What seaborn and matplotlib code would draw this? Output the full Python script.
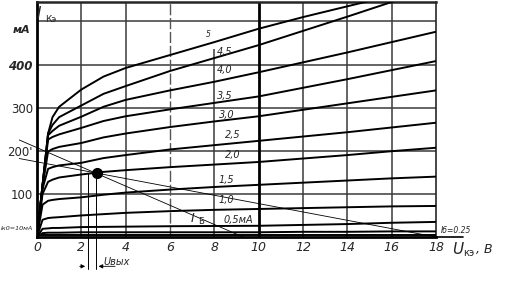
import matplotlib
matplotlib.use("Agg")
import matplotlib.pyplot as plt
import numpy as np
import pandas as pd
import seaborn as sns

# ---- data ----
u_ke = [0, 0.25, 0.5, 0.7, 1, 2, 3, 4, 6, 8, 10, 12, 14, 16, 18]   # V
ib_labels = ["5", "4,5", "4,0", "3,5", "3,0", "2,5", "2,0", "1,5", "1,0", "0,5мА", "0,25"]
ik_5_0 = [0, 120, 240, 278, 302, 342, 372, 392, 422, 452, 483, 510, 535, 560, 585]
ik_4_5 = [0, 120, 240, 260, 278, 305, 332, 350, 385, 415, 445, 478, 511, 545, 578]
ik_4_0 = [0, 120, 236, 246, 258, 279, 302, 318, 340, 360, 382, 405, 428, 452, 476]
ik_3_5 = [0, 120, 226, 232, 238, 253, 269, 280, 296, 311, 326, 346, 366, 387, 408]
ik_3_0 = [0, 118, 198, 204, 209, 218, 231, 240, 255, 268, 280, 295, 310, 325, 340]
ik_2_5 = [0, 112, 158, 162, 166, 172, 183, 190, 203, 213, 223, 233, 243, 254, 265]
ik_2_0 = [0, 100, 128, 133, 138, 145, 151, 155, 162, 168, 174, 182, 190, 199, 207]
ik_1_5 = [0, 75, 84, 86, 88, 92, 98, 103, 110, 116, 121, 126, 131, 136, 140]
ik_1_0 = [0, 40, 44, 45, 46, 50, 53, 56, 60, 63, 65, 67, 69, 71, 72]
ik_0_5 = [0, 19, 20, 21, 21, 23, 23.5, 24, 25, 25.5, 26, 28, 30, 33, 35]
ik_0_25 = [0, 9, 10, 10, 10, 11, 11, 11, 11, 11, 11, 12, 12, 13, 13]
ik0_level = 4  # mA, residual line near the axis

# label positions (V, mA) for curve names
label_u = [7.6, 8.1, 8.1, 8.1, 8.2, 8.5, 8.5, 8.2, 8.2, 8.4]
label_i = [470, 430, 388, 328, 282, 237, 190, 133, 86, 40]

# load lines (V, mA)
load1_u = [-0.8, 9.3]
load1_i = [225, 0]
load2_u = [-0.8, 18]
load2_i = [182, 0]
op_u, op_i = 2.7, 149
uout_u = [2.3, 2.65]

x_ticks = [0, 2, 4, 6, 8, 10, 12, 14, 16, 18]
x_ticklabels = ["0", "2", "4", "6", "8", "10", "12", "14", "16", "18"]
y_ticks = [100, 200, 300, 400]
y_ticklabels = ["100", "200'", "300", "400"]
h_grid = [100, 200, 300, 400, 500]

series = [ik_5_0, ik_4_5, ik_4_0, ik_3_5, ik_3_0, ik_2_5, ik_2_0, ik_1_5, ik_1_0, ik_0_5, ik_0_25]
df = pd.DataFrame({
    "U": np.tile(u_ke, len(series)),
    "I": np.concatenate(series),
    "Ib": np.repeat(ib_labels, len(u_ke)),
})

sns.set_style("white")
plt.rcParams['font.family'] = ['DejaVu Sans']

fig = plt.figure(figsize=(5.18, 2.90), dpi=100)
ax = fig.add_axes([37/518, 1-237/290, (436-37)/518, 235/290])
ax.set_xlim(0, 18)
ax.set_ylim(0, 545)

grid_c = "#3a3a3a"
for y in h_grid:
    ax.axhline(y, color=grid_c, lw=1.1, zorder=1)
for x in x_ticks[1:-1]:
    if x == 10:
        ax.axvline(x, color="black", lw=2.0, zorder=1)
    elif x == 8:
        ax.vlines(x, 0, 435, color=grid_c, lw=1.1, zorder=1)
    elif x == 6:
        ax.axvline(x, color="#555555", lw=1.0, ls=(0, (8, 2)), zorder=1)
    else:
        ax.axvline(x, color=grid_c, lw=1.1, zorder=1)

sns.lineplot(data=df, x="U", y="I", hue="Ib", palette=["black"] * len(series),
             legend=False, ax=ax, lw=1.4, zorder=3)
ax.axhline(ik0_level, color="black", lw=1.4, zorder=3)

# load lines
ax.plot(load1_u, load1_i, color="black", lw=0.6, clip_on=False, zorder=2)
ax.plot(load2_u, load2_i, color="black", lw=0.6, clip_on=False, zorder=2)
# operating point
ax.plot([op_u], [op_i], "o", color="black", ms=7, zorder=5)
# Uout markers
for u in uout_u:
    ax.plot([u, u], [op_i, -75], color="black", lw=0.7, clip_on=False)
ax.annotate("", xy=(uout_u[0], -68), xytext=(uout_u[0] - 0.5, -68),
            arrowprops=dict(arrowstyle="-|>", lw=0.6, color="black", mutation_scale=6),
            annotation_clip=False)
ax.annotate("", xy=(uout_u[1], -68), xytext=(uout_u[1] + 1.0, -68),
            arrowprops=dict(arrowstyle="-|>", lw=0.6, color="black", mutation_scale=6),
            annotation_clip=False)
ax.text(3.0, -58, "Uвых", fontsize=7, style="italic", ha="left", va="center")

# curve labels
for lab, u, i in zip(ib_labels[:-1], label_u, label_i):
    ax.text(u, i, lab, fontsize=7 if lab != "5" else 5.5, style="italic",
            ha="left", va="center", zorder=6)
ax.text(7.0, 44, "I", fontsize=9, style="italic", ha="center", va="center", zorder=6)
ax.text(7.25, 36, "Б", fontsize=6, ha="left", va="center", zorder=6)
ax.text(18.2, 16, "Iб=0.25", fontsize=5.5, style="italic", ha="left", va="center")
fig.text(1/518, 1-229/290, "Iк0=10мА", fontsize=4.6, style="italic",
         ha="left", va="center")

# spines
for s in ["left", "bottom"]:
    ax.spines[s].set_linewidth(2.0)
    ax.spines[s].set_color("black")
ax.spines["top"].set_linewidth(1.8)
ax.spines["right"].set_linewidth(1.2)
ax.plot([18, 19.2], [0, 0], color="black", lw=1.2, clip_on=False)

ax.set_xticks(x_ticks)
ax.set_xticklabels(x_ticklabels, fontsize=9, style="italic")
ax.set_yticks(y_ticks)
ax.set_yticklabels(y_ticklabels, fontsize=8.5)
ax.get_yticklabels()[3].set_fontweight("bold")
ax.get_yticklabels()[3].set_style("italic")
ax.tick_params(axis="both", length=0, pad=3)
ax.set_xlabel("")
ax.set_ylabel("")

fig.text(37/518, 1-14/290, "I", fontsize=11, style="italic", ha="left", va="center")
fig.text(45/518, 1-19/290, "Кэ", fontsize=6.5, ha="left", va="center")
fig.text(13/518, 1-30/290, "мА", fontsize=8, style="italic", fontweight="bold",
         ha="left", va="center")
fig.text(452/518, 1-249/290, "U", fontsize=11, style="italic", ha="left", va="center")
fig.text(463/518, 1-253/290, "кэ", fontsize=7, ha="left", va="center")
fig.text(476/518, 1-249/290, ", В", fontsize=9, style="italic", ha="left", va="center")

fig.savefig("out.png", dpi=100)
